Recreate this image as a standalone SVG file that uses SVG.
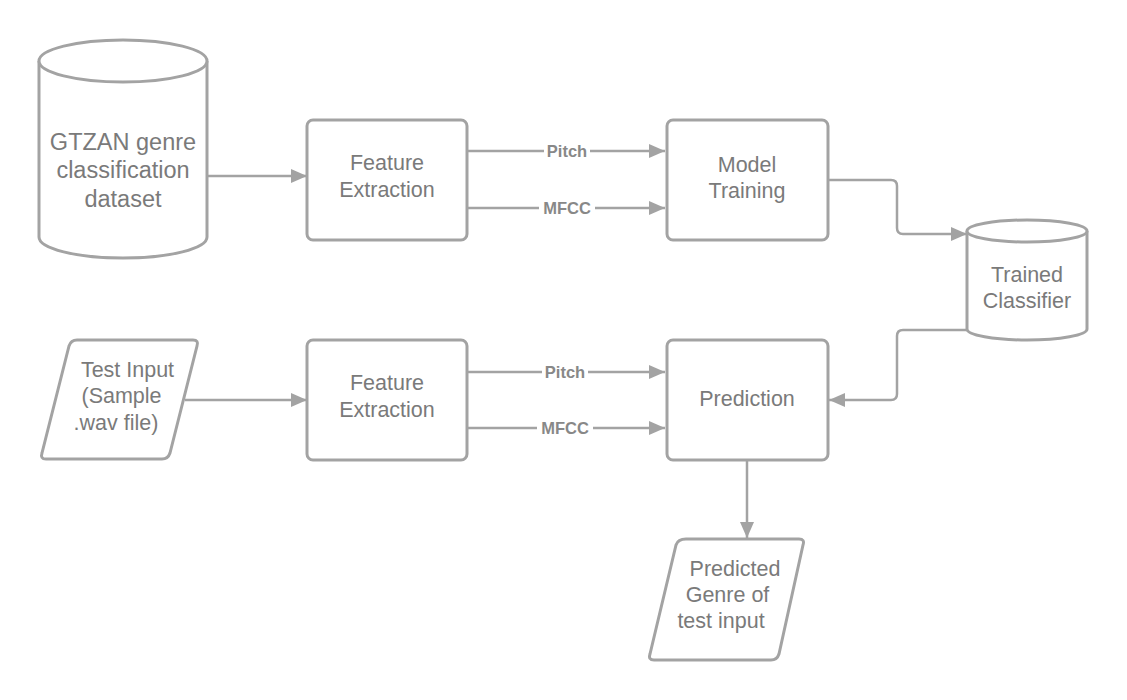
<svg xmlns="http://www.w3.org/2000/svg" width="1127" height="700" viewBox="0 0 1127 700">
<defs>
<marker id="arr" markerUnits="userSpaceOnUse" markerWidth="16" markerHeight="14" refX="16" refY="7" orient="auto">
<path d="M0,0 L16,7 L0,14 Z" fill="#a3a3a3"/>
</marker>
<style>
.shape{fill:#ffffff;stroke:#a3a3a3;stroke-width:3;stroke-linejoin:round}
.conn{fill:none;stroke:#a3a3a3;stroke-width:2.5;stroke-linejoin:round}
.t{font-family:"Liberation Sans",Arial,sans-serif;font-size:21.5px;fill:#7a7a7a;text-anchor:middle}
.big{font-size:23.5px}
.lbl{font-family:"Liberation Sans",Arial,sans-serif;font-size:16.5px;font-weight:bold;fill:#888888;text-anchor:middle}
</style>
</defs>
<rect width="1127" height="700" fill="#ffffff"/>

<g id="connectors">
<path class="conn" d="M207,176 L307,176" marker-end="url(#arr)"/>
<path class="conn" d="M467,151 L665,151" marker-end="url(#arr)"/>
<path class="conn" d="M467,208 L665,208" marker-end="url(#arr)"/>
<path class="conn" d="M828,180 L891,180 Q897,180 897,186 L897,228 Q897,234 903,234 L967,234" marker-end="url(#arr)"/>
<path class="conn" d="M967,330 L903,330 Q897,330 897,336 L897,394 Q897,400 891,400 L829,400" marker-end="url(#arr)"/>
<path class="conn" d="M185,400 L307,400" marker-end="url(#arr)"/>
<path class="conn" d="M467,372 L665,372" marker-end="url(#arr)"/>
<path class="conn" d="M467,428 L665,428" marker-end="url(#arr)"/>
<path class="conn" d="M747,460 L747,538" marker-end="url(#arr)"/>
<rect x="544" y="140" width="46" height="20" fill="#ffffff"/>
<text class="lbl" x="567" y="157">Pitch</text>
<rect x="539" y="197" width="56" height="20" fill="#ffffff"/>
<text class="lbl" x="567" y="214">MFCC</text>
<rect x="542" y="361" width="46" height="20" fill="#ffffff"/>
<text class="lbl" x="565" y="378">Pitch</text>
<rect x="537" y="417" width="56" height="20" fill="#ffffff"/>
<text class="lbl" x="565" y="434">MFCC</text>
</g>

<g id="gtzan">
<path class="shape" d="M39,61 L39,237 A84,21 0 0 0 207,237 L207,61 A84,21 0 0 0 39,61 Z"/>
<path class="shape" d="M39,61 A84,21 0 0 0 207,61" fill="none"/>
<text class="t big" x="123" y="150">GTZAN genre</text>
<text class="t big" x="123" y="178">classification</text>
<text class="t big" x="123" y="207">dataset</text>
</g>

<g id="fe1">
<rect class="shape" x="307" y="120" width="160" height="120" rx="6"/>
<text class="t" x="387" y="170">Feature</text>
<text class="t" x="387" y="197">Extraction</text>
</g>

<g id="mt">
<rect class="shape" x="667" y="120" width="161" height="120" rx="6"/>
<text class="t" x="747" y="172">Model</text>
<text class="t" x="747" y="198">Training</text>
</g>

<g id="tc">
<path class="shape" d="M967,231 L967,329 A60,11 0 0 0 1087,329 L1087,231 A60,11 0 0 0 967,231 Z"/>
<path class="shape" d="M967,231 A60,11 0 0 0 1087,231" fill="none"/>
<text class="t" x="1027" y="282">Trained</text>
<text class="t" x="1027" y="308">Classifier</text>
</g>

<g id="testinput">
<path class="shape" d="M77,340 L193,340 Q199,340 197,346 L170,453 Q168,459 162,459 L46,459 Q40,459 42,453 L69,346 Q71,340 77,340 Z"/>
<text class="t" x="127.5" y="377">Test Input</text>
<text class="t" x="121.5" y="403">(Sample</text>
<text class="t" x="116" y="430">.wav file)</text>
</g>

<g id="fe2">
<rect class="shape" x="307" y="340" width="160" height="120" rx="6"/>
<text class="t" x="387" y="390">Feature</text>
<text class="t" x="387" y="417">Extraction</text>
</g>

<g id="prediction">
<rect class="shape" x="667" y="340" width="161" height="120" rx="6"/>
<text class="t" x="747" y="406">Prediction</text>
</g>

<g id="predicted">
<path class="shape" d="M686,539 L799,539 Q805,539 803,545 L779,654 Q777,660 771,660 L654,660 Q648,660 650,654 L676,545 Q678,539 686,539 Z"/>
<text class="t" x="735" y="576">Predicted</text>
<text class="t" x="727.5" y="602">Genre of</text>
<text class="t" x="721" y="628">test input</text>
</g>
</svg>
